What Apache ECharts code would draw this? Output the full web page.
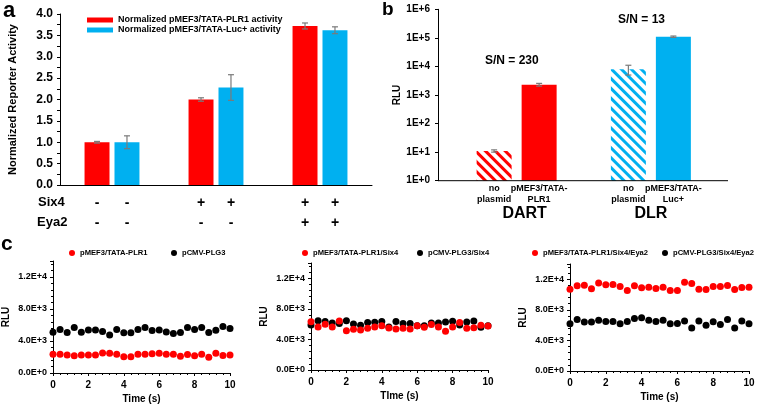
<!DOCTYPE html>
<html><head><meta charset="utf-8">
<script src="https://cdn.jsdelivr.net/npm/echarts@6/dist/echarts.min.js"></script>
<style>html,body{margin:0;padding:0;background:#fff}#c{width:760px;height:405px}</style>
</head><body><div id="c"></div>
<script>
// ---------- Panel a data ----------
const conditionsA = ['none', 'Six4', 'Six4+Eya2'];
const six4Signs = ['-', '+', '+'];
const eya2Signs = ['-', '-', '+'];
const plr1Norm = [1.00, 2.00, 3.72];
const plr1Err = [0.02, 0.04, 0.07];
const lucNorm = [1.00, 2.28, 3.62];
const lucErr = [0.15, 0.30, 0.08];

// ---------- Panel b data ----------
const assays = ['DART', 'DLR'];
const noPlasmid = [11, 8000];
const noPlasmidErr = [1, 3000];
const reporter = [2300, 110000];
const reporterErr = [250, 6000];
const noPlasmidLabel = 'no\nplasmid';
const reporterLabels = ['pMEF3/TATA-\nPLR1', 'pMEF3/TATA-\nLuc+'];
const snTexts = ['S/N = 230', 'S/N = 13'];

// ---------- Panel c data ----------
const time = [0, 0.4, 0.8, 1.2, 1.6, 2.0, 2.4, 2.8, 3.2, 3.6, 4.0, 4.4, 4.8, 5.2, 5.6, 6.0, 6.4, 6.8, 7.2, 7.6, 8.0, 8.4, 8.8, 9.2, 9.6, 10.0];
const c1Red = [2350, 2350, 2250, 2170, 2250, 2250, 2250, 2500, 2460, 2350, 2040, 2040, 2350, 2350, 2420, 2460, 2350, 2350, 2080, 2300, 2170, 2350, 1960, 2460, 2200, 2250];
const c1Black = [5100, 5450, 5050, 5700, 5100, 5370, 5370, 5200, 4750, 5450, 5020, 5020, 5450, 5680, 5300, 5370, 5130, 4950, 5050, 5680, 5450, 5680, 5050, 5350, 5800, 5550];
const c2Red = [6300, 5620, 6000, 5620, 6420, 5130, 5330, 5250, 5450, 5620, 5800, 5500, 5350, 5450, 5350, 5780, 5580, 5950, 5620, 5070, 5620, 6200, 5460, 5530, 5860, 5750];
const c2Black = [5890, 6460, 6330, 6150, 6070, 6460, 6020, 5850, 6200, 6240, 6330, 5630, 6330, 6070, 6070, 5800, 5800, 6150, 6150, 6290, 6370, 5890, 6290, 6420, 5580, 5800];
const c3Red = [10700, 11140, 11220, 10750, 11530, 11270, 11310, 11050, 10530, 11140, 10880, 10960, 10790, 10960, 10530, 10530, 11610, 11440, 10700, 10660, 11050, 11050, 11180, 10660, 10920, 10960];
const c3Black = [6180, 6740, 6400, 6400, 6650, 6490, 6490, 6180, 6490, 6870, 6960, 6640, 6490, 6650, 6180, 6200, 6550, 5640, 6530, 5980, 6450, 6090, 6740, 5640, 6550, 6180];
const cRedNames = ['pMEF3/TATA-PLR1', 'pMEF3/TATA-PLR1/Six4', 'pMEF3/TATA-PLR1/Six4/Eya2'];
const cBlackNames = ['pCMV-PLG3', 'pCMV-PLG3/Six4', 'pCMV-PLG3/Six4/Eya2'];
const cTimeTitles = ['Time (s)', 'TIme (s)', 'Time (s)'];

// ---------- styling ----------
const FF = '"Liberation Sans", Arial, sans-serif';
const RED = '#FF0000', BLUE = '#00B0F0', ERR = '#7A7A7A';
const chart = echarts.init(document.getElementById('c'), null, {renderer: 'canvas'});

function errRenderer(offsetFn) {
  return function (params, api) {
    const i = api.value(0), v = api.value(1), e = api.value(2);
    const dx = offsetFn(api);
    const top = api.coord([i, v + e]);
    const bot = api.coord([i, v - e]);
    const x = top[0] + dx;
    const st = {stroke: ERR, lineWidth: 1.2};
    return {type: 'group', children: [
      {type: 'line', shape: {x1: x, y1: top[1], x2: x, y2: bot[1]}, style: st},
      {type: 'line', shape: {x1: x - 3, y1: top[1], x2: x + 3, y2: top[1]}, style: st},
      {type: 'line', shape: {x1: x - 3, y1: bot[1], x2: x + 3, y2: bot[1]}, style: st}
    ]};
  };
}

const cGrids = [
  {left: 53, right: 530, top: 261, bottom: 32},
  {left: 311, right: 272, top: 263, bottom: 35},
  {left: 570, right: 11, top: 264, bottom: 34}
];

const grids = [
  {left: 60, right: 388, top: 14, bottom: 220},
  {left: 449.5, right: 42, top: 9.3, bottom: 224.3}
].concat(cGrids);

const xAxes = [
  {gridIndex: 0, type: 'category', data: conditionsA,
   axisLine: {lineStyle: {color: '#000', width: 1}}, axisTick: {show: false},
   axisLabel: {interval: 0, margin: 8, color: '#000',
     formatter: (v, i) => `{s|${six4Signs[i]}}{s|${six4Signs[i]}}\n{s|${eya2Signs[i]}}{s|${eya2Signs[i]}}`,
     rich: {s: {width: 30, align: 'center', fontSize: 14, fontWeight: 'bold', fontFamily: FF, lineHeight: 20, color: '#000'}}}},
  {gridIndex: 1, type: 'category', data: assays,
   axisLine: {show: false}, axisTick: {show: false},
   axisLabel: {margin: 25, color: '#000',
     formatter: (v, i) => i === 0 ? `{d|${v}}` : `{n|${v}}`,
     rich: {
       d: {fontSize: 16, fontWeight: 'bold', fontFamily: FF, color: '#000', padding: [0, 0, 0, 16]},
       n: {fontSize: 16, fontWeight: 'bold', fontFamily: FF, color: '#000'}
     }}}
];
const yAxes = [
  {gridIndex: 0, type: 'value', min: 0, max: 4, interval: 0.5,
   name: 'Normalized Reporter Activity', nameLocation: 'middle', nameGap: 42,
   nameTextStyle: {fontSize: 11, fontWeight: 'bold', fontFamily: FF, color: '#000'},
   axisLine: {show: true, lineStyle: {color: '#000'}}, splitLine: {show: false},
   axisTick: {show: true, length: 3, lineStyle: {color: '#000'}},
   minorTick: {show: true, splitNumber: 2, length: 3, lineStyle: {color: '#000'}},
   axisLabel: {color: '#000', fontSize: 12, fontWeight: 'bold', fontFamily: FF, margin: 7,
     formatter: v => v.toFixed(1)}},
  {gridIndex: 1, type: 'log', logBase: 10, min: 1, max: 1e6, interval: 1, offset: 11.5,
   name: 'RLU', nameLocation: 'middle', nameGap: 34,
   nameTextStyle: {fontSize: 10, fontWeight: 'bold', fontFamily: FF, color: '#000'},
   axisLine: {show: true, lineStyle: {color: '#000'}}, splitLine: {show: false},
   axisTick: {show: true, length: 3, lineStyle: {color: '#000'}},
   axisLabel: {color: '#000', fontSize: 10, fontWeight: 'bold', fontFamily: FF, margin: 8,
     formatter: v => v.toExponential(0).replace('e', 'E')}}
];

for (let k = 0; k < 3; k++) {
  xAxes.push({gridIndex: k + 2, type: 'value', min: 0, max: 10, interval: 2,
    name: cTimeTitles[k], nameLocation: 'middle', nameGap: 21,
    nameTextStyle: {fontSize: 10, fontWeight: 'bold', fontFamily: FF, color: '#000'},
    axisLine: {lineStyle: {color: '#000'}}, splitLine: {show: false},
    axisTick: {length: 3, lineStyle: {color: '#000'}},
    minorTick: {show: true, splitNumber: 5, length: 2, lineStyle: {color: '#000'}},
    axisLabel: {color: '#000', fontSize: 10, fontWeight: 'bold', fontFamily: FF, margin: 7}});
  yAxes.push({gridIndex: k + 2, type: 'value', min: 0, max: 14000, interval: 4000,
    name: 'RLU', nameLocation: 'middle', nameGap: 42,
    nameTextStyle: {fontSize: 10, fontWeight: 'bold', fontFamily: FF, color: '#000'},
    axisLine: {show: true, lineStyle: {color: '#000'}}, splitLine: {show: false},
    axisTick: {length: 3, lineStyle: {color: '#000'}},
    minorTick: {show: true, splitNumber: 5, length: 2, lineStyle: {color: '#000'}},
    axisLabel: {color: '#000', fontSize: 9, fontWeight: 'bold', fontFamily: FF, margin: 6, showMaxLabel: false,
      formatter: v => v.toExponential(1).replace('e', 'E')}});
}

const aOffset = 0.144;
const bBarW = 35, bGap = 10;
const series = [
  {name: 'Normalized pMEF3/TATA-PLR1 activity', type: 'bar', xAxisIndex: 0, yAxisIndex: 0,
   data: plr1Norm, barWidth: '24%', barGap: '20%', itemStyle: {color: RED}},
  {name: 'Normalized pMEF3/TATA-Luc+ activity', type: 'bar', xAxisIndex: 0, yAxisIndex: 0,
   data: lucNorm, barWidth: '24%', barGap: '20%', itemStyle: {color: BLUE}},
  {type: 'custom', xAxisIndex: 0, yAxisIndex: 0, z: 5, encode: {x: 0, y: 1},
   data: plr1Norm.map((v, i) => [i, v, plr1Err[i]]),
   renderItem: errRenderer(api => -aOffset * api.size([1, 0])[0])},
  {type: 'custom', xAxisIndex: 0, yAxisIndex: 0, z: 5, encode: {x: 0, y: 1},
   data: lucNorm.map((v, i) => [i, v, lucErr[i]]),
   renderItem: errRenderer(api => aOffset * api.size([1, 0])[0])},
  // panel b
  {name: 'no plasmid', type: 'bar', xAxisIndex: 1, yAxisIndex: 1, barWidth: bBarW, barGap: (bGap / bBarW * 100) + '%',
   data: noPlasmid.map((v, i) => ({value: v, itemStyle: {color: '#fff',
     decal: {symbol: 'rect', symbolSize: 1, dashArrayX: [1, 0], dashArrayY: [2.5, 3.5], rotation: Math.PI / 4,
             color: i === 0 ? RED : BLUE, backgroundColor: '#fff'}}})),
   label: {show: true, position: 'bottom', distance: 2, formatter: noPlasmidLabel, color: '#000',
     fontSize: 9, fontWeight: 'bold', fontFamily: FF, lineHeight: 11.5, align: 'center'}},
  {name: 'reporter', type: 'bar', xAxisIndex: 1, yAxisIndex: 1, barWidth: bBarW, barGap: (bGap / bBarW * 100) + '%',
   data: reporter.map((v, i) => ({value: v, itemStyle: {color: i === 0 ? RED : BLUE}})),
   label: {show: true, position: 'bottom', distance: 2, formatter: p => reporterLabels[p.dataIndex], color: '#000',
     fontSize: 9, fontWeight: 'bold', fontFamily: FF, lineHeight: 11.5, align: 'center'}},
  {type: 'custom', xAxisIndex: 1, yAxisIndex: 1, z: 5, encode: {x: 0, y: 1},
   data: noPlasmid.map((v, i) => [i, v, noPlasmidErr[i]]),
   renderItem: errRenderer(() => -(bBarW + bGap) / 2)},
  {type: 'custom', xAxisIndex: 1, yAxisIndex: 1, z: 5, encode: {x: 0, y: 1},
   data: reporter.map((v, i) => [i, v, reporterErr[i]]),
   renderItem: errRenderer(() => (bBarW + bGap) / 2)}
];

const cRed = [c1Red, c2Red, c3Red], cBlack = [c1Black, c2Black, c3Black];
for (let k = 0; k < 3; k++) {
  series.push({name: cBlackNames[k], type: 'scatter', xAxisIndex: k + 2, yAxisIndex: k + 2,
    symbolSize: 7, itemStyle: {color: '#000', opacity: 1},
    data: time.map((t, i) => [t, cBlack[k][i]])});
  series.push({name: cRedNames[k], type: 'scatter', xAxisIndex: k + 2, yAxisIndex: k + 2,
    symbolSize: 7, itemStyle: {color: RED, opacity: 1},
    data: time.map((t, i) => [t, cRed[k][i]])});
}

const legTxt = {fontSize: 7.6, fontWeight: 'bold', fontFamily: FF, color: '#000'};
const cLegPos = [[69, 171], [302, 417], [532, 662]];
const legends = [
  {data: ['Normalized pMEF3/TATA-PLR1 activity', 'Normalized pMEF3/TATA-Luc+ activity'],
   orient: 'vertical', left: 87, top: 15, itemWidth: 26, itemHeight: 5, itemGap: 0, padding: 0,
   icon: 'rect', selectedMode: false,
   textStyle: {fontSize: 9, fontWeight: 'bold', fontFamily: FF, color: '#000', lineHeight: 10}}
];
for (let k = 0; k < 3; k++) {
  legends.push({data: [cRedNames[k]], left: cLegPos[k][0], top: 249, icon: 'circle', itemWidth: 6, itemHeight: 6,
    padding: 0, selectedMode: false, textStyle: legTxt});
  legends.push({data: [cBlackNames[k]], left: cLegPos[k][1], top: 249, icon: 'circle', itemWidth: 6, itemHeight: 6,
    padding: 0, selectedMode: false, textStyle: legTxt});
}

const bold = (txt, size) => ({text: txt, font: `bold ${size}px ${FF}`, fill: '#000'});
const graphic = [
  {type: 'text', left: 3, top: 0, style: bold('a', 22)},
  {type: 'text', left: 382, top: 0, style: bold('b', 19)},
  {type: 'text', left: 1, top: 234, style: bold('c', 21)},
  {type: 'text', left: 38, top: 196, style: bold('Six4', 13)},
  {type: 'text', left: 37, top: 216, style: bold('Eya2', 13)},
  {type: 'text', left: 485, top: 55, style: bold(snTexts[0], 12)},
  {type: 'text', left: 618, top: 14, style: bold(snTexts[1], 12)},
  {type: 'line', shape: {x1: 438, y1: 180.7, x2: 728, y2: 180.7}, style: {stroke: '#000', lineWidth: 1}, z: 10}
];

chart.setOption({
  animation: false,
  backgroundColor: '#fff',
  textStyle: {fontFamily: FF},
  grid: grids, xAxis: xAxes, yAxis: yAxes, series: series, legend: legends, graphic: graphic
});
</script></body></html>
